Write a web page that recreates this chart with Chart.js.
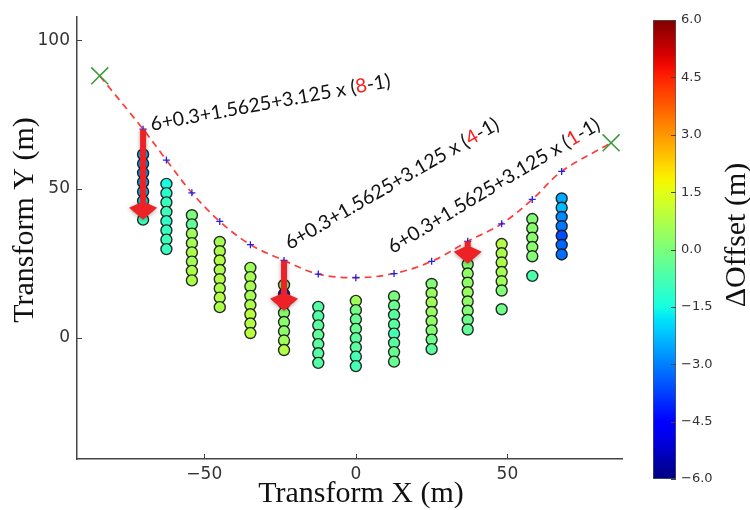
<!DOCTYPE html>
<html>
<head>
<meta charset="utf-8">
<script src="https://cdn.jsdelivr.net/npm/chart.js@4.4.1/dist/chart.umd.min.js"></script>
<style>
  body { margin: 0; background: #fff; }
  #wrap { position: relative; width: 750px; height: 510px; }
  #main { position: absolute; left: 0; top: 0; width: 750px; height: 510px; }
  #bar { position: absolute; left: 620px; top: 0; width: 130px; height: 510px; }
</style>
</head>
<body>
<div id="wrap">
  <div id="main"><canvas id="scatterChart"></canvas></div>
  <div id="bar"><canvas id="colorbarChart"></canvas></div>
</div>
<script>
// station positions along the curve (m)
const columnX = [-70.2, -62.5, -54.1, -44.9, -34.8, -23.7, -12.4, 0, 12.6, 25.0, 36.9, 48.1, 58.2, 67.9];
const stationY = [70.1, 59.7, 48.7, 39.1, 31.3, 26.0, 21.4, 20.2, 21.6, 25.7, 32.4, 38.3, 46.5, 55.9];

// curve end points (green crosses)
const endX = [-84.5, 84.2];
const endY = [88.0, 65.5];

// receivers below each station
const columnY = [
  [61.6, 58.5, 55.4, 52.3, 49.1, 46.0, 42.9, 39.7],
  [51.7, 48.6, 45.5, 42.3, 39.2, 36.1, 33.0, 29.8],
  [41.2, 38.1, 35.0, 31.8, 28.7, 25.6, 22.5, 19.3],
  [32.2, 29.1, 26.0, 22.8, 19.7, 16.6, 13.5, 10.3],
  [23.5, 20.4, 17.3, 14.1, 11.0, 7.9, 4.8, 1.6],
  [17.8, 14.7, 11.6, 8.4, 5.3, 2.2, -0.9, -4.1],
  [10.4, 7.3, 4.2, 1.0, -2.1, -5.2, -8.4],
  [12.4, 9.3, 6.2, 3.0, -0.1, -3.2, -6.3, -9.5],
  [13.9, 10.8, 7.7, 4.5, 1.4, -1.7, -4.8, -8.0],
  [18.1, 15.0, 11.9, 8.7, 5.6, 2.5, -0.6, -3.8],
  [24.7, 21.6, 18.5, 15.3, 12.2, 9.1, 6.0, 2.8],
  [31.5, 28.4, 25.3, 22.1, 19.0, 15.9, 9.6],
  [39.9, 36.8, 33.6, 30.5, 27.4, 20.8],
  [46.8, 43.7, 40.6, 37.5, 34.3, 31.2, 28.0]
];
const columnOffset = [
  [-2.4, -2.6, -2.6, -2.4, -2.2, -1.8, -1.6, -0.9],
  [-1.5, -1.2, -1.0, -0.9, -1.1, -1.0, -0.9, -1.0],
  [0.0, -0.4, 0.5, 0.6, 0.7, 0.6, 0.7, 0.7],
  [0.6, 0.7, 0.8, 0.7, 0.8, 0.7, 0.8, 0.7],
  [0.5, 0.6, 0.6, 0.6, 0.7, 0.9, 0.8, 0.9],
  [0.2, -4.0, 0.1, 0.2, 0.2, 0.3, 0.5, 0.8],
  [-0.6, -0.6, -0.5, -0.4, -0.5, -0.6, -0.6],
  [0.5, -0.1, -0.3, -0.3, -0.5, -0.5, -0.8, -0.8],
  [0.0, -0.3, -0.5, -0.5, -0.8, -0.5, -0.3, -0.3],
  [0.1, 0.4, 0.5, 0.4, 0.3, 0.1, -0.2, -0.5],
  [0.1, 0.3, 0.3, 0.4, 0.3, 0.1, -0.2, -0.4],
  [0.8, 0.7, 0.7, 0.6, 0.5, 0.1, -0.2],
  [0.1, 0.2, 0.2, 0.2, 0.1, -0.7],
  [-2.5, -2.3, -2.9, -3.1, -3.6, -3.3, -3.2]
];

// arrows: x, start y, tip y
const arrowX = [-70.2, -23.7, 36.9];
const arrowFrom = [70.1, 26.0, 32.4];
const arrowTo = [39.7, 9.1, 24.9];

// formula labels
const labelCount = ['8', '4', '1'];
const labelX = [-67.3, -21.8, 12.2];
const labelY = [69.6, 29.5, 28.2];
const labelAngle = [10.3, 30, 31];

const xTicks = [-50, 0, 50];
const yTicks = [0, 50, 100];
const offsetTicks = [-6, -4.5, -3, -1.5, 0, 1.5, 3, 4.5, 6];

// matplotlib jet
const JET_R = [[0, 0], [0.35, 0], [0.66, 1], [0.89, 1], [1, 0.5]];
const JET_G = [[0, 0], [0.125, 0], [0.375, 1], [0.64, 1], [0.91, 0], [1, 0]];
const JET_B = [[0, 0.5], [0.11, 1], [0.34, 1], [0.65, 0], [1, 0]];
function channel(t, pts) {
  for (let i = 1; i < pts.length; i++) {
    if (t <= pts[i][0]) {
      const [x0, y0] = pts[i - 1], [x1, y1] = pts[i];
      return y0 + (y1 - y0) * (t - x0) / (x1 - x0);
    }
  }
  return pts[pts.length - 1][1];
}
function jetT(t) {
  t = Math.min(1, Math.max(0, t));
  const r = Math.round(channel(t, JET_R) * 255);
  const g = Math.round(channel(t, JET_G) * 255);
  const b = Math.round(channel(t, JET_B) * 255);
  return `rgb(${r},${g},${b})`;
}
const jet = v => jetT((v + 6) / 12);

const fmt = v => (v < 0 ? '\u2212' + Math.abs(v) : String(v));

const points = [];
const pointColors = [];
columnX.forEach((x, i) => {
  columnY[i].forEach((y, j) => {
    points.push({ x: x, y: y });
    pointColors.push(jet(columnOffset[i][j]));
  });
});
const stations = columnX.map((x, i) => ({ x: x, y: stationY[i] }));
const curve = [{ x: endX[0], y: endY[0] }, ...stations, { x: endX[1], y: endY[1] }];
const ends = endX.map((x, i) => ({ x: x, y: endY[i] }));

function drawArrow(ctx, px, y0, y1) {
  const shaftW = 6, headW = 28, headL = 17, wing = 12;
  ctx.save();
  ctx.fillStyle = '#ec2227';
  ctx.shadowColor = 'rgba(0,0,0,0.35)';
  ctx.shadowBlur = 4;
  ctx.shadowOffsetY = 1;
  ctx.beginPath();
  ctx.moveTo(px - shaftW / 2, y0);
  ctx.lineTo(px + shaftW / 2, y0);
  ctx.lineTo(px + shaftW / 2, y1 - headL);
  ctx.lineTo(px + headW / 2, y1 - wing);
  ctx.lineTo(px, y1);
  ctx.lineTo(px - headW / 2, y1 - wing);
  ctx.lineTo(px - shaftW / 2, y1 - headL);
  ctx.closePath();
  ctx.fill();
  ctx.restore();
}

const overlay = {
  id: 'overlay',
  afterDatasetsDraw(chart) {
    const { ctx, scales: { x, y } } = chart;
    arrowX.forEach((ax, i) => {
      drawArrow(ctx, x.getPixelForValue(ax), y.getPixelForValue(arrowFrom[i]), y.getPixelForValue(arrowTo[i]));
    });
    labelCount.forEach((n, i) => {
      const parts = [['6+0.3+1.5625+3.125 x (', '#111'], [n, '#ff1a1a'], ['-1)', '#111']];
      ctx.save();
      ctx.translate(x.getPixelForValue(labelX[i]), y.getPixelForValue(labelY[i]));
      ctx.rotate(-labelAngle[i] * Math.PI / 180);
      ctx.font = '19.5px Lato';
      ctx.textBaseline = 'alphabetic';
      let cx = 0;
      parts.forEach(([s, c]) => {
        ctx.fillStyle = c;
        ctx.fillText(s, cx, 0);
        cx += ctx.measureText(s).width;
      });
      ctx.restore();
    });
  },
  afterDraw(chart) {
    const { ctx, chartArea: a, scales: { x, y } } = chart;
    ctx.save();
    ctx.strokeStyle = '#444';
    ctx.lineWidth = 1;
    xTicks.forEach(v => {
      const px = Math.round(x.getPixelForValue(v)) + 0.5;
      ctx.beginPath(); ctx.moveTo(px, a.bottom); ctx.lineTo(px, a.bottom - 5); ctx.stroke();
    });
    yTicks.forEach(v => {
      const py = Math.round(y.getPixelForValue(v)) + 0.5;
      ctx.beginPath(); ctx.moveTo(a.left, py); ctx.lineTo(a.left + 5, py); ctx.stroke();
    });
    ctx.fillStyle = '#111';
    ctx.font = '30px "Liberation Serif"';
    ctx.textAlign = 'center';
    ctx.textBaseline = 'alphabetic';
    ctx.fillText('Transform X (m)', 361, 502);
    ctx.translate(33, 220);
    ctx.rotate(-Math.PI / 2);
    ctx.fillText('Transform Y (m)', 0, 0);
    ctx.restore();
  }
};

new Chart(document.getElementById('scatterChart'), {
  type: 'scatter',
  data: {
    datasets: [
      {
        label: 'ends',
        data: ends,
        pointStyle: 'crossRot',
        pointRadius: 12,
        borderColor: '#3a9a3a',
        borderWidth: 1.5,
        order: 0
      },
      {
        label: 'stations',
        data: stations,
        pointStyle: 'cross',
        pointRadius: 3.5,
        borderColor: '#2020f0',
        borderWidth: 1.3,
        order: 1
      },
      {
        label: 'curve',
        data: curve,
        showLine: true,
        pointRadius: 0,
        borderColor: '#ff3b3b',
        borderWidth: 1.7,
        borderDash: [7, 5],
        tension: 0.35,
        fill: false,
        order: 2
      },
      {
        label: 'receivers',
        data: points,
        pointRadius: 5.5,
        backgroundColor: pointColors,
        borderColor: 'rgba(20,20,20,0.9)',
        borderWidth: 1.4,
        order: 3
      }
    ]
  },
  options: {
    responsive: true,
    maintainAspectRatio: false,
    animation: false,
    devicePixelRatio: 1,
    layout: { padding: { left: 0, top: 8, right: 128, bottom: 0 } },
    plugins: { legend: { display: false }, tooltip: { enabled: false } },
    scales: {
      x: {
        type: 'linear',
        min: -92,
        max: 87.8,
        afterBuildTicks: s => { s.ticks = xTicks.map(v => ({ value: v })); },
        afterFit: s => { s.height = 51; },
        grid: { display: false, drawTicks: false },
        border: { display: true, color: '#444', width: 1.5 },
        ticks: { padding: 5, color: '#333', font: { family: 'DejaVu Sans', size: 17 }, callback: fmt, maxRotation: 0 }
      },
      y: {
        type: 'linear',
        min: -40.7,
        max: 107.7,
        afterBuildTicks: s => { s.ticks = yTicks.map(v => ({ value: v })); },
        afterFit: s => { s.width = 77; },
        grid: { display: false, drawTicks: false },
        border: { display: true, color: '#444', width: 1.5 },
        ticks: { padding: 7, color: '#333', font: { family: 'DejaVu Sans', size: 17 }, callback: fmt }
      }
    }
  },
  plugins: [overlay]
});

function jetGradient(chart) {
  const a = chart.chartArea;
  if (!a) return null;
  const g = chart.ctx.createLinearGradient(0, a.bottom, 0, a.top);
  for (let i = 0; i <= 40; i++) g.addColorStop(i / 40, jetT(i / 40));
  return g;
}

const colorbarDeco = {
  id: 'colorbarDeco',
  afterDraw(chart) {
    const { ctx, chartArea: a, scales: { y } } = chart;
    ctx.save();
    ctx.strokeStyle = '#444';
    ctx.lineWidth = 1;
    offsetTicks.forEach(v => {
      const py = Math.round(y.getPixelForValue(v)) + 0.5;
      ctx.beginPath(); ctx.moveTo(a.right, py); ctx.lineTo(a.right - 5, py); ctx.stroke();
    });
    ctx.fillStyle = '#111';
    ctx.font = '30px "Liberation Serif"';
    ctx.textAlign = 'center';
    ctx.textBaseline = 'alphabetic';
    ctx.translate(125, 235);
    ctx.rotate(-Math.PI / 2);
    ctx.fillText('\u0394Offset (m)', 0, 0);
    ctx.restore();
  }
};

new Chart(document.getElementById('colorbarChart'), {
  type: 'bar',
  data: {
    labels: ['offset'],
    datasets: [{
      data: [[offsetTicks[0], offsetTicks[offsetTicks.length - 1]]],
      backgroundColor: c => jetGradient(c.chart),
      borderColor: '#555',
      borderWidth: 1,
      borderSkipped: false,
      barPercentage: 1,
      categoryPercentage: 1
    }]
  },
  options: {
    responsive: true,
    maintainAspectRatio: false,
    animation: false,
    devicePixelRatio: 1,
    layout: { padding: { left: 33, top: 20, right: 0, bottom: 31 } },
    plugins: { legend: { display: false }, tooltip: { enabled: false } },
    scales: {
      x: { display: false },
      y: {
        position: 'right',
        min: -6,
        max: 6,
        afterBuildTicks: s => { s.ticks = offsetTicks.map(v => ({ value: v })); },
        afterFit: s => { s.width = 74; },
        grid: { display: false, drawTicks: false },
        border: { display: false },
        ticks: {
          padding: 5,
          color: '#333',
          font: { family: 'DejaVu Sans', size: 13 },
          callback: v => (v < 0 ? '\u2212' + Math.abs(v).toFixed(1) : v.toFixed(1))
        }
      }
    }
  },
  plugins: [colorbarDeco]
});
</script>
</body>
</html>
